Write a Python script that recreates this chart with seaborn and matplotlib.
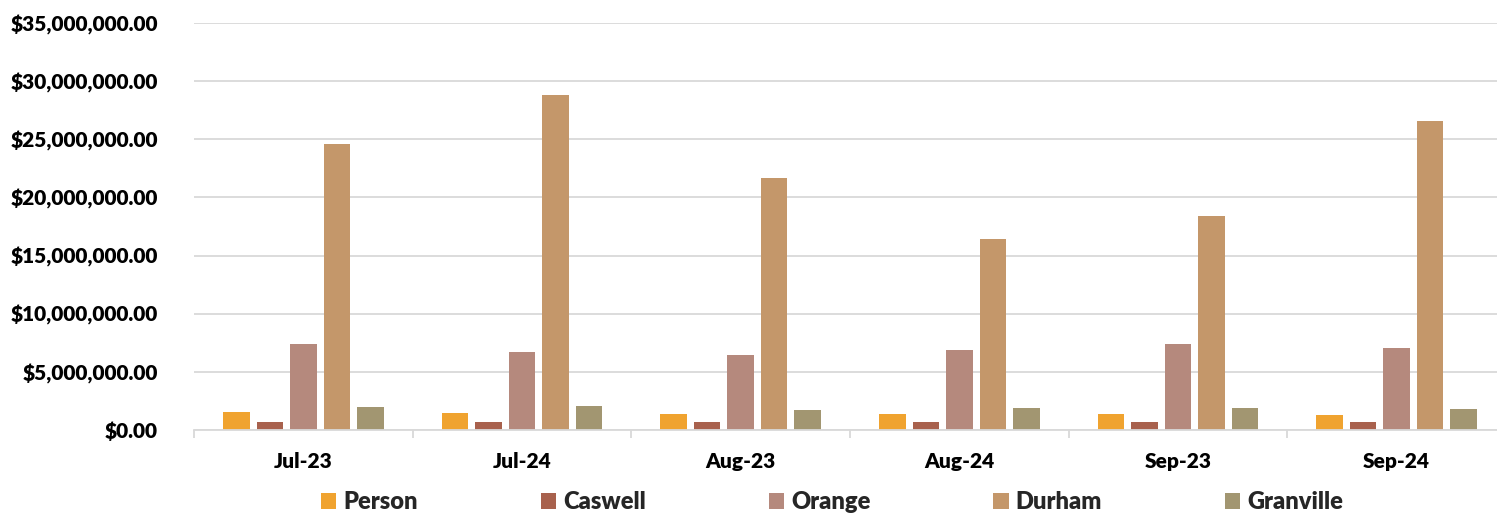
import matplotlib
matplotlib.use("Agg")
import matplotlib.pyplot as plt
import seaborn as sns
import pandas as pd
from matplotlib.ticker import FuncFormatter, FixedLocator
from matplotlib.patches import Patch

months = ["Jul-23", "Jul-24", "Aug-23", "Aug-24", "Sep-23", "Sep-24"]
counties = ["Person", "Caswell", "Orange", "Durham", "Granville"]
person = [1520000, 1430000, 1370000, 1370000, 1370000, 1290000]
caswell = [660000, 660000, 650000, 650000, 650000, 650000]
orange = [7390000, 6700000, 6420000, 6900000, 7420000, 7020000]
durham = [24570000, 28780000, 21650000, 16430000, 18410000, 26570000]
granville = [1980000, 2030000, 1750000, 1860000, 1890000, 1780000]
colors = ["#F0A32F", "#A8614D", "#B5897D", "#C4976A", "#A29671"]

series = {"Person": person, "Caswell": caswell, "Orange": orange,
          "Durham": durham, "Granville": granville}
rows = []
for c in counties:
    for m, v in zip(months, series[c]):
        rows.append({"Month": m, "County": c, "Value": v})
df = pd.DataFrame(rows)

sns.set_theme(style="white")
plt.rcParams["font.family"] = ["Lato", "DejaVu Sans"]
plt.rcParams["font.weight"] = "heavy"

W, H = 1497, 515
fig = plt.figure(figsize=(W / 100, H / 100), dpi=100)
ax = fig.add_axes([194 / W, 1 - 430 / H, 1312 / W, 407 / H])

sns.barplot(data=df, x="Month", y="Value", hue="County", order=months,
            hue_order=counties, palette=colors, width=0.766, gap=0.21,
            ax=ax, legend=False, saturation=1, edgecolor="none")

ax.set_xlim(-0.5, 5.5)
ax.set_ylim(0, 35000000)
ax.set_yticks(range(0, 35000001, 5000000))
ax.yaxis.set_major_formatter(FuncFormatter(lambda v, p: f"${v:,.2f}"))
ax.grid(axis="y", color="#D9D9D9", linewidth=1.3)
ax.set_axisbelow(True)
for s in ["top", "right", "left"]:
    ax.spines[s].set_visible(False)
ax.spines["bottom"].set_color("#D9D9D9")
ax.spines["bottom"].set_linewidth(1.3)
ax.set_xlabel("")
ax.set_ylabel("")
ax.tick_params(axis="y", length=0, pad=26, labelsize=15, labelcolor="black")
ax.tick_params(axis="x", which="major", length=0, pad=16, labelsize=15, labelcolor="black")
ax.xaxis.set_minor_locator(FixedLocator([i - 0.5 for i in range(7)]))
ax.tick_params(axis="x", which="minor", length=6, width=1.3, color="#D9D9D9", bottom=True)
for lab in ax.get_xticklabels() + ax.get_yticklabels():
    lab.set_fontweight("heavy")

handles = [Patch(facecolor=c, edgecolor="none") for c in colors]
fig.legend(handles, counties, loc="center", bbox_to_anchor=(832 / W, 1 - 502 / H),
           ncol=5, frameon=False, prop={"size": 17, "weight": "heavy"},
           handlelength=0.65, handleheight=0.65, handletextpad=0.3,
           columnspacing=5.2, borderaxespad=0)

fig.savefig("out.png", dpi=100)
